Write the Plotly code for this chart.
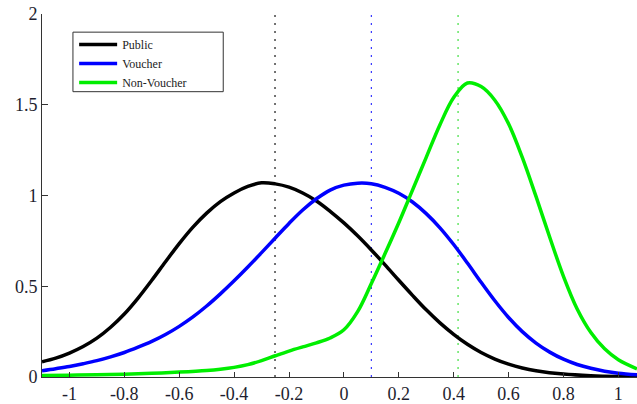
import plotly.graph_objects as go

# Data
public_x = [-1.1, -1.05, -1.0, -0.95, -0.9, -0.85, -0.8, -0.75, -0.7, -0.65, -0.6, -0.55, -0.5, -0.45, -0.4, -0.35, -0.3, -0.25, -0.2, -0.15, -0.1, -0.05, 0.0, 0.05, 0.1, 0.15, 0.2, 0.25, 0.3, 0.35, 0.4, 0.45, 0.5, 0.55, 0.6, 0.65, 0.7, 0.8, 0.9, 1.0, 1.068]
public_y = [0.084, 0.104, 0.132, 0.168, 0.214, 0.274, 0.347, 0.435, 0.533, 0.635, 0.735, 0.826, 0.903, 0.966, 1.014, 1.05, 1.07, 1.064, 1.046, 1.014, 0.97, 0.913, 0.849, 0.778, 0.70, 0.618, 0.533, 0.45, 0.37, 0.298, 0.235, 0.18, 0.135, 0.099, 0.071, 0.05, 0.035, 0.016, 0.007, 0.003, 0.002]

voucher_x = [-1.1, -1.05, -1.0, -0.95, -0.9, -0.85, -0.8, -0.75, -0.7, -0.65, -0.6, -0.55, -0.5, -0.45, -0.4, -0.35, -0.3, -0.25, -0.2, -0.15, -0.1, -0.05, 0.0, 0.05, 0.1, 0.15, 0.2, 0.25, 0.3, 0.35, 0.4, 0.45, 0.5, 0.55, 0.6, 0.65, 0.7, 0.75, 0.8, 0.85, 0.9, 0.95, 1.0, 1.068]
voucher_y = [0.035, 0.046, 0.058, 0.073, 0.09, 0.111, 0.135, 0.164, 0.196, 0.234, 0.279, 0.331, 0.391, 0.458, 0.53, 0.606, 0.685, 0.766, 0.846, 0.92, 0.982, 1.03, 1.057, 1.068, 1.065, 1.045, 1.012, 0.964, 0.90, 0.822, 0.73, 0.628, 0.522, 0.42, 0.328, 0.25, 0.187, 0.137, 0.098, 0.069, 0.048, 0.032, 0.021, 0.012]

nonvoucher_x = [-1.1, -1.0, -0.9, -0.8, -0.7, -0.6, -0.5, -0.45, -0.4, -0.35, -0.3, -0.25, -0.2, -0.15, -0.1, -0.05, 0.0, 0.05, 0.1, 0.15, 0.2, 0.25, 0.3, 0.35, 0.4, 0.45, 0.5, 0.55, 0.6, 0.65, 0.7, 0.75, 0.8, 0.85, 0.9, 0.95, 1.0, 1.068]
nonvoucher_y = [0.008, 0.01, 0.012, 0.015, 0.02, 0.027, 0.036, 0.043, 0.053, 0.068, 0.09, 0.117, 0.143, 0.166, 0.188, 0.215, 0.26, 0.36, 0.515, 0.68, 0.85, 1.03, 1.21, 1.39, 1.54, 1.62, 1.60, 1.525, 1.395, 1.21, 0.995, 0.77, 0.555, 0.375, 0.245, 0.155, 0.095, 0.045]

series_names = ["Public", "Voucher", "Non-Voucher"]
series_colors = ["#000000", "#0000ff", "#00ee00"]
mean_values = [-0.251, 0.100, 0.416]
mean_colors = ["#000000", "#2525ff", "#30dd30"]

x_ticks = [-1, -0.8, -0.6, -0.4, -0.2, 0, 0.2, 0.4, 0.6, 0.8, 1]
x_tick_labels = ["-1", "-0.8", "-0.6", "-0.4", "-0.2", "0", "0.2", "0.4", "0.6", "0.8", "1"]
y_ticks = [0, 0.5, 1, 1.5, 2]
y_tick_labels = ["0", "0.5", "1", "1.5", "2"]

fig = go.Figure()
for name, xs, ys, col in zip(series_names,
                             [public_x, voucher_x, nonvoucher_x],
                             [public_y, voucher_y, nonvoucher_y],
                             series_colors):
    fig.add_trace(go.Scatter(x=xs, y=ys, mode="lines", name=name,
                             line=dict(color=col, width=3.5, shape="spline", smoothing=1.0)))

for m, c in zip(mean_values, mean_colors):
    fig.add_shape(type="line", x0=m, x1=m, y0=0, y1=2, xref="x", yref="y",
                  line=dict(color=c, width=1.1, dash="2px,6px"), layer="below")

# legend frame
fig.add_shape(type="rect", xref="paper", yref="paper", x0=0.052, x1=0.3046, y0=0.786, y1=0.95,
              line=dict(color="#333333", width=1), fillcolor="white", layer="above")

font_family = "Liberation Serif"
fig.update_layout(
    width=637, height=404,
    margin=dict(l=42, r=0, t=14, b=27),
    paper_bgcolor="white", plot_bgcolor="white",
    font=dict(family=font_family, size=18, color="#1e1e2e"),
    showlegend=True,
    legend=dict(x=0.054, y=0.956, xanchor="left", yanchor="top",
                borderwidth=0, bgcolor="rgba(0,0,0,0)",
                font=dict(family=font_family, size=12, color="#222222"),
                tracegroupgap=0, itemwidth=38),
    xaxis=dict(range=[-1.1, 1.068], tickmode="array", tickvals=x_ticks, ticktext=x_tick_labels,
               tickfont=dict(family=font_family, size=18),
               showgrid=False, zeroline=False, showline=True, linecolor="#333333", linewidth=1,
               ticks="inside", ticklen=5, tickcolor="#333333", mirror=False),
    yaxis=dict(range=[0, 2], tickmode="array", tickvals=y_ticks, ticktext=y_tick_labels,
               tickfont=dict(family=font_family, size=18),
               showgrid=False, zeroline=False, showline=True, linecolor="#333333", linewidth=1,
               ticks="inside", ticklen=6, tickcolor="#333333", mirror=False),
)

fig.write_html("out.html")
